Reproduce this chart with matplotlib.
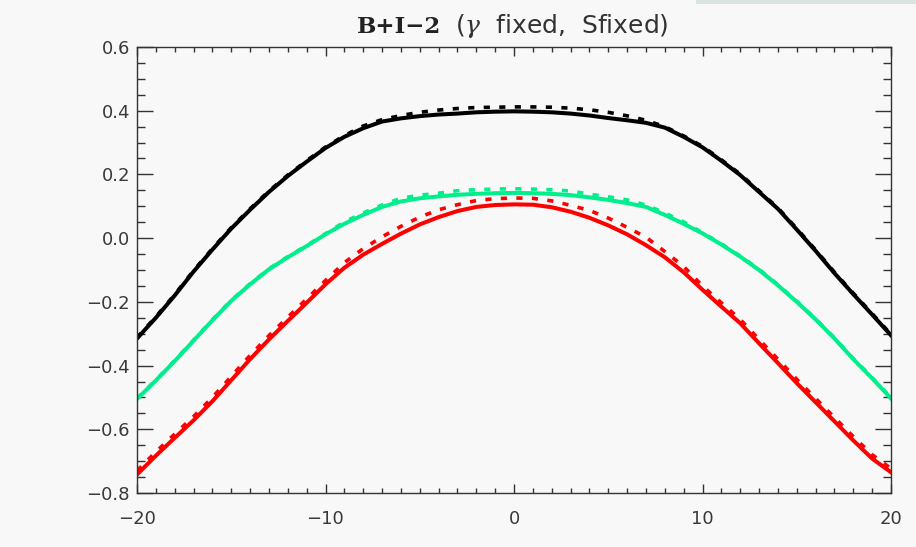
import numpy as np
import matplotlib
matplotlib.use('Agg')
import matplotlib.pyplot as plt
from matplotlib.ticker import MultipleLocator
from matplotlib.patches import Rectangle

# ── data ────────────────────────────────────────────────────────────────────
x = np.arange(-20, 21)

black_solid = [-0.315, -0.25, -0.18, -0.105, -0.036, 0.03, 0.089, 0.145, 0.195, 0.24,
               0.283, 0.318, 0.345, 0.366, 0.376, 0.383, 0.388, 0.391, 0.395, 0.397,
               0.398,
               0.397, 0.395, 0.391, 0.385, 0.377, 0.37, 0.362, 0.347, 0.318, 0.285,
               0.243, 0.198, 0.145, 0.092, 0.027, -0.04, -0.11, -0.176, -0.24, -0.305]
black_dash = [-0.312, -0.247, -0.177, -0.102, -0.033, 0.033, 0.092, 0.148, 0.198, 0.243,
              0.286, 0.322, 0.352, 0.372, 0.385, 0.395, 0.402, 0.407, 0.41, 0.411,
              0.412,
              0.412, 0.411, 0.408, 0.403, 0.395, 0.384, 0.37, 0.35, 0.321, 0.288,
              0.246, 0.201, 0.148, 0.095, 0.03, -0.037, -0.107, -0.173, -0.237, -0.302]

green_solid = [-0.505, -0.447, -0.386, -0.322, -0.258, -0.197, -0.145, -0.098, -0.06, -0.025,
               0.012, 0.045, 0.073, 0.098, 0.115, 0.125, 0.131, 0.136, 0.139, 0.141,
               0.142,
               0.141, 0.139, 0.135, 0.128, 0.12, 0.11, 0.098, 0.073, 0.045, 0.015,
               -0.02, -0.058, -0.1, -0.148, -0.2, -0.255, -0.315, -0.38, -0.44, -0.503]
green_dash = [-0.503, -0.445, -0.384, -0.32, -0.256, -0.195, -0.143, -0.096, -0.058, -0.023,
              0.014, 0.051, 0.079, 0.104, 0.125, 0.135, 0.141, 0.149, 0.152, 0.154,
              0.155,
              0.154, 0.152, 0.148, 0.138, 0.13, 0.12, 0.104, 0.079, 0.051, 0.017,
              -0.018, -0.056, -0.098, -0.146, -0.198, -0.253, -0.313, -0.378, -0.438, -0.501]

red_solid = [-0.742, -0.683, -0.627, -0.572, -0.512, -0.446, -0.38, -0.318, -0.26, -0.203,
             -0.145, -0.093, -0.052, -0.018, 0.014, 0.043, 0.066, 0.085, 0.098, 0.104,
             0.106,
             0.105, 0.097, 0.083, 0.064, 0.04, 0.012, -0.022, -0.06, -0.107, -0.162,
             -0.215, -0.267, -0.33, -0.392, -0.455, -0.515, -0.575, -0.635, -0.692, -0.735]
red_dash = [-0.73, -0.671, -0.615, -0.56, -0.5, -0.434, -0.368, -0.306, -0.248, -0.191,
            -0.133, -0.077, -0.033, 0.004, 0.037, 0.066, 0.089, 0.105, 0.118, 0.124,
            0.126,
            0.125, 0.117, 0.103, 0.087, 0.063, 0.034, 0.003, -0.042, -0.089, -0.15,
            -0.203, -0.255, -0.318, -0.38, -0.443, -0.503, -0.563, -0.623, -0.68, -0.723]

GREEN = '#00ee8c'
RED = '#ff0000'
BG = '#f8f8f8'
AXC = '#333333'

plt.rcParams['mathtext.fontset'] = 'custom'
plt.rcParams['mathtext.it'] = 'DejaVu Serif:italic'
plt.rcParams['mathtext.rm'] = 'DejaVu Sans'

fig = plt.figure(figsize=(9.16, 5.47), dpi=100, facecolor=BG)
ax = fig.add_axes([137 / 916, 54 / 547, 754 / 916, 446 / 547])
ax.set_facecolor(BG)

# window decoration strip at the top right
fig.patches.append(Rectangle((0.76, 0.993), 0.24, 0.007, transform=fig.transFigure,
                             facecolor='#dbe3df', edgecolor='none'))

dash = (0, (1.7, 2.6))
ax.plot(x, black_solid, color='black', lw=2.9)
ax.plot(x, black_dash, color='black', lw=2.6, linestyle=dash)
ax.plot(x, green_solid, color=GREEN, lw=2.9)
ax.plot(x, green_dash, color=GREEN, lw=2.6, linestyle=dash)
ax.plot(x, red_solid, color=RED, lw=2.9)
ax.plot(x, red_dash, color=RED, lw=2.6, linestyle=dash)

ax.set_xlim(-20, 20)
ax.set_ylim(-0.8, 0.6)
ax.xaxis.set_major_locator(MultipleLocator(10))
ax.xaxis.set_minor_locator(MultipleLocator(1))
ax.yaxis.set_major_locator(MultipleLocator(0.2))
ax.yaxis.set_minor_locator(MultipleLocator(0.05))

for s in ax.spines.values():
    s.set_color(AXC)
    s.set_linewidth(1.0)

ax.tick_params(axis='both', which='both', direction='in', top=True, right=True,
               color=AXC, width=1.0, labelcolor='#3a3a3a', labelsize=13)
ax.tick_params(axis='x', which='major', length=6.5, pad=12)
ax.tick_params(axis='x', which='minor', length=3.3)
ax.tick_params(axis='y', which='major', length=11.5, pad=5)
ax.tick_params(axis='y', which='minor', length=5.8)

fig.canvas.draw()
ylabs = ax.get_yticklabels()
ylabs[0].set_va('bottom')
ylabs[-1].set_va('top')

# title in two parts: bold serif tag + plain text
ty = 1 - 33 / 547
fig.text(441 / 916, ty, 'B+I−2', family='DejaVu Serif', weight='bold',
         fontsize=16.5, color='#222222', ha='right', va='baseline')
fig.text(455 / 916, ty, r'($\gamma$  fixed,  Sfixed)', fontsize=18,
         color='#333333', ha='left', va='baseline')

fig.savefig('out.png', dpi=100, facecolor=BG)
